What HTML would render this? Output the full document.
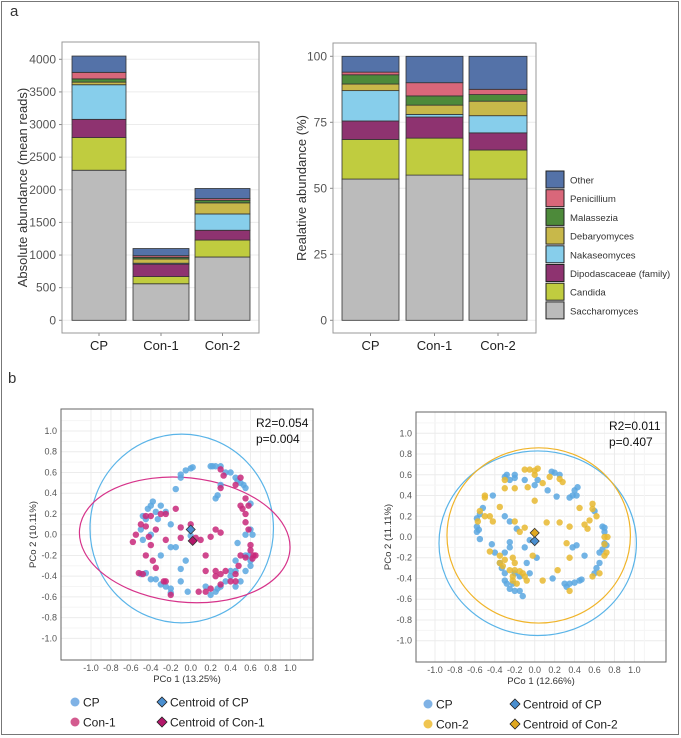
<!DOCTYPE html>
<html><head><meta charset="utf-8"><style>
html,body{margin:0;padding:0;background:#fff;}
svg{display:block;font-family:"Liberation Sans",Arial,sans-serif;}
</style></head><body>
<svg id="fig" width="681" height="738" viewBox="0 0 681 738" xmlns="http://www.w3.org/2000/svg">
<rect x="1.5" y="1.5" width="677" height="733" fill="none" stroke="#777" stroke-width="1"/>
<text x="10" y="16" font-size="15" fill="#333">a</text>
<text x="8" y="383" font-size="15" fill="#333">b</text>
<g id="g"></g>
</svg>
<script>
// ---------- data ----------
const groups = ["CP","Con-1","Con-2"];
const taxa = ["Saccharomyces","Candida","Dipodascaceae (family)","Nakaseomyces","Debaryomyces","Malassezia","Penicillium","Other"];
const taxaColors = ["#bbbbbb","#c0cc3f","#8e3370","#87ceeb","#c8b84a","#4d8a3a","#d9677a","#5472a8"];
// absolute abundance per taxon (mean reads) for CP, Con-1, Con-2
const absCP   = [2300,500,280,530,40,50,100,250];
const absCon1 = [560,110,190,15,65,25,25,110];
const absCon2 = [970,260,150,250,170,40,25,155];
// relative abundance (%)
const relCP   = [53.5,15,7,11.5,2.5,3.5,1,6];
const relCon1 = [55,14,8,1,3.5,3.5,5,10];
const relCon2 = [53.5,11,6.5,6.5,5.5,2.5,2,12.5];
const absTicks = [0,500,1000,1500,2000,2500,3000,3500,4000];
const relTicks = [0,25,50,75,100];
const pcoTicks = [-1.0,-0.8,-0.6,-0.4,-0.2,0.0,0.2,0.4,0.6,0.8,1.0];

// PCoA left: CP vs Con-1
const leftCP = [[-0.1,0.58],[-0.05,0.62],[0,0.64],[0.02,0.65],[0.2,0.66],[0.22,0.66],[0.25,0.66],[0.3,0.66],[0.35,0.6],[0.4,0.6],[0.45,0.55],[0.47,0.52],[0.5,0.5],[0.53,0.48],[0.55,0.45],[0.3,0.48],[0.25,0.35],[0.27,0.38],[-0.15,0.44],[-0.1,0.55],[-0.38,0.32],[-0.4,0.28],[-0.43,0.25],[-0.3,0.28],[-0.35,0.22],[-0.48,0.18],[-0.45,0.15],[-0.33,0.15],[-0.25,0.22],[-0.2,0.1],[-0.5,0.05],[-0.48,-0.05],[-0.4,0.0],[0,-0.01],[-0.2,-0.12],[-0.15,-0.12],[-0.05,-0.25],[-0.1,-0.33],[-0.3,-0.2],[-0.4,-0.43],[-0.35,-0.43],[-0.3,-0.48],[-0.25,-0.5],[-0.2,-0.52],[-0.2,-0.56],[-0.1,-0.45],[-0.03,-0.55],[-0.5,-0.38],[-0.45,-0.37],[0.2,-0.58],[0.25,-0.55],[0.27,-0.52],[0.3,-0.5],[0.4,-0.4],[0.45,-0.35],[0.45,-0.5],[0.5,-0.45],[0.55,-0.35],[0.6,-0.3],[0.6,-0.25],[0.58,-0.2],[0.55,-0.2],[0.6,0.05],[0.62,0.0],[0.55,0.0],[0.47,-0.08],[0.45,-0.25],[0.4,-0.35],[0.6,0.3],[0.15,-0.5],[0.35,-0.45]];
const leftCon1 = [[0.3,0.63],[0.33,0.57],[0.3,0.45],[0.45,0.48],[0.5,0.55],[0.55,0.35],[0.58,0.28],[0.5,0.28],[0.52,0.25],[0.55,0.2],[0.55,0.12],[0.58,0.05],[0.6,-0.1],[0.6,-0.15],[0.63,-0.2],[0.65,-0.2],[0.62,-0.23],[0.55,-0.22],[0.5,-0.2],[0.48,-0.3],[0.45,-0.38],[0.35,-0.35],[0.3,-0.38],[0.25,-0.4],[0.45,-0.45],[0.4,-0.45],[0.3,-0.48],[0.2,-0.52],[0.15,-0.55],[0.08,-0.55],[0.25,-0.35],[0.15,-0.35],[0.15,-0.2],[0.1,-0.05],[0.05,-0.03],[0.2,-0.02],[0.25,0.05],[0.3,0.02],[0.0,0.1],[-0.1,0.07],[-0.1,-0.03],[-0.25,-0.05],[-0.15,0.25],[-0.25,0.2],[-0.3,0.2],[-0.4,0.18],[-0.45,0.18],[-0.5,0.1],[-0.45,0.08],[-0.55,0.0],[-0.58,-0.07],[-0.4,-0.1],[-0.45,-0.2],[-0.38,-0.25],[-0.35,-0.32],[-0.48,-0.38],[-0.52,-0.37],[-0.25,-0.45],[-0.27,-0.45],[-0.2,-0.58],[-0.35,0.05],[-0.42,-0.02]];
const leftCentroids = [[0.0,0.05],[0.02,-0.06]];
// ellipses: cx, cy, rx, ry, angle(deg)
const leftEllCP = [-0.09,0.06,0.92,0.91,0];
const leftEllCon1 = [-0.06,-0.05,1.06,0.6,6];

// PCoA right: CP vs Con-2
const rightCP = [[-0.3,0.58],[-0.28,0.6],[-0.25,0.55],[-0.2,0.6],[-0.2,0.57],[-0.1,0.55],[0.0,0.5],[0.03,0.55],[0.17,0.63],[0.2,0.62],[0.25,0.6],[0.13,0.45],[0.22,0.39],[0.35,0.38],[0.4,0.45],[0.43,0.48],[0.42,0.4],[0.38,0.4],[0.6,0.25],[-0.42,0.4],[-0.52,0.28],[-0.55,0.22],[-0.58,0.18],[-0.58,0.1],[-0.58,0.05],[-0.56,0.07],[-0.55,-0.02],[-0.3,0.2],[-0.25,0.15],[-0.18,0.08],[-0.43,-0.07],[-0.4,-0.15],[-0.3,-0.15],[-0.25,-0.05],[-0.25,-0.1],[-0.35,-0.25],[-0.33,-0.3],[-0.3,-0.35],[-0.3,-0.42],[-0.28,-0.45],[-0.25,-0.5],[-0.2,-0.52],[-0.15,-0.52],[-0.12,-0.57],[-0.2,-0.35],[-0.15,-0.38],[-0.05,-0.35],[-0.08,-0.25],[-0.05,-0.03],[0.02,-0.2],[0.18,-0.4],[0.3,-0.45],[0.32,-0.48],[0.35,-0.45],[0.4,-0.44],[0.45,-0.42],[0.47,-0.41],[0.5,-0.18],[0.42,-0.08],[0.38,-0.1],[0.6,-0.35],[0.62,-0.3],[0.65,-0.25],[0.65,-0.15],[0.68,-0.12],[0.7,-0.06],[0.72,-0.08],[0.7,0.05],[0.68,0.1],[0.7,0.09],[-0.1,-0.1],[-0.22,-0.45]];
const rightCon2 = [[-0.3,0.55],[-0.3,0.47],[-0.2,0.47],[-0.07,0.48],[-0.1,0.65],[-0.05,0.65],[0.0,0.64],[0.03,0.66],[0.0,0.6],[0.08,0.52],[0.15,0.58],[0.25,0.56],[0.28,0.53],[0.0,0.35],[-0.5,0.4],[-0.5,0.38],[-0.35,0.29],[-0.45,0.2],[-0.5,0.2],[-0.55,0.25],[-0.57,0.15],[-0.42,0.15],[-0.2,0.15],[-0.15,0.05],[-0.1,0.09],[0.12,0.14],[0.25,0.14],[0.35,0.1],[0.5,0.12],[0.53,0.08],[0.45,0.28],[0.58,0.27],[0.58,0.32],[0.62,0.2],[0.55,0.16],[0.7,-0.07],[0.72,-0.15],[0.7,-0.18],[0.73,0.0],[0.32,-0.06],[0.35,-0.2],[0.23,-0.32],[0.08,-0.42],[-0.02,-0.18],[-0.35,-0.18],[-0.3,-0.22],[-0.32,-0.28],[-0.35,-0.25],[-0.25,-0.32],[-0.2,-0.32],[-0.15,-0.33],[-0.12,-0.35],[-0.1,-0.38],[-0.22,-0.38],[-0.22,-0.42],[-0.18,-0.45],[-0.08,-0.42],[-0.22,-0.2],[-0.2,-0.25],[-0.45,-0.14],[0.35,-0.52],[0.65,-0.35],[0.58,-0.38],[0.7,0.0]];
const rightCentroids = [[0.0,-0.04],[0.0,0.04]];
const rightEllCP = [0.03,-0.06,0.99,0.89,0];
const rightEllCon2 = [0.04,0.015,0.92,0.845,0];

// ---------- drawing ----------
const NS="http://www.w3.org/2000/svg";
const root=document.getElementById('g');
function el(tag,attrs,parent,text){const e=document.createElementNS(NS,tag);for(const k in attrs)e.setAttribute(k,attrs[k]);if(text!==undefined)e.textContent=text;(parent||root).appendChild(e);return e;}

function barChart(o){
  const g=el('g',{});
  
  
  const y=v=>o.y0+(o.y1-o.y0)*(v-o.vmin)/(o.vmax-o.vmin);
  el('rect',{x:o.bx0,y:o.by0,width:o.bx1-o.bx0,height:o.by1-o.by0,fill:'#fff'},g);
  o.ticks.forEach(t=>{
    const l=el('line',{x1:o.bx0,x2:o.bx1,y1:y(t),y2:y(t),stroke:'#ececec','stroke-width':1},g);
    
    
    el('line',{x1:o.bx0-3,x2:o.bx0,y1:y(t),y2:y(t),stroke:'#888'},g);
    const tx=el('text',{x:o.bx0-6,y:y(t)+4,'font-size':12,fill:'#555','text-anchor':'end'},g,String(t));
    
    
  });
  o.series.forEach((vals,gi)=>{
    const x0=o.barX[gi][0],x1=o.barX[gi][1];
    let cum=0;
    vals.forEach((v,ti)=>{
      const r=el('rect',{x:x0,y:y(cum+v),width:x1-x0,height:y(cum)-y(cum+v),fill:taxaColors[ti],stroke:'#333','stroke-width':0.8},g);
      
      
      cum+=v;
    });
    const cx=(x0+x1)/2;
    el('line',{x1:cx,x2:cx,y1:o.by1,y2:o.by1+3,stroke:'#888'},g);
    const tl=el('text',{x:cx,y:o.by1+17,'font-size':13,fill:'#222','text-anchor':'middle'},g,groups[gi]);
    
    
  });
  el('rect',{x:o.bx0,y:o.by0,width:o.bx1-o.bx0,height:o.by1-o.by0,fill:'none',stroke:'#999','stroke-width':1},g);
  const yt=el('text',{x:o.titleX,y:(o.by0+o.by1)/2,'font-size':13,fill:'#333','text-anchor':'middle',transform:`rotate(-90 ${o.titleX} ${(o.by0+o.by1)/2})`},g,o.title);
  
  
}
barChart({name:'absolute-abundance-chart',bx0:62,bx1:259,by0:42,by1:333,y0:320.3,y1:59.3,vmin:0,vmax:4000,ticks:absTicks,
  series:[absCP,absCon1,absCon2],barX:[[72,126],[133,189],[195,250]],title:'Absolute abundance (mean reads)',titleX:27});
barChart({name:'relative-abundance-chart',bx0:333,bx1:536,by0:43,by1:333,y0:320.3,y1:56.3,vmin:0,vmax:100,ticks:relTicks,
  series:[relCP,relCon1,relCon2],barX:[[342,399],[406,463],[469,527]],title:'Realative abundance (%)',titleX:306});

// legend
const lg=el('g',{});


for(let i=taxa.length-1,k=0;i>=0;i--,k++){
  const yy=171+k*18.7;
  const r=el('rect',{x:546,y:yy,width:18,height:17,fill:taxaColors[i],stroke:'#222','stroke-width':1},lg);
  
  
  const t=el('text',{x:570,y:yy+12.5,'font-size':9.6,fill:'#333'},lg,taxa[i]);
  
  
}

function pcoa(o){
  const g=el('g',{});
  
  
  const sx=v=>o.x0+v*o.kx, sy=v=>o.y0-v*o.ky;
  el('rect',{x:o.bx0,y:o.by0,width:o.bx1-o.bx0,height:o.by1-o.by0,fill:'#fff'},g);
  pcoTicks.forEach(t=>{
    el('line',{x1:sx(t),x2:sx(t),y1:o.by0,y2:o.by1,stroke:'#ececec'},g);
    el('line',{x1:o.bx0,x2:o.bx1,y1:sy(t),y2:sy(t),stroke:'#ececec'},g);
    el('line',{x1:sx(t+0.1),x2:sx(t+0.1),y1:o.by0,y2:o.by1,stroke:'#f5f5f5'},g);
    el('line',{x1:o.bx0,x2:o.bx1,y1:sy(t+0.1),y2:sy(t+0.1),stroke:'#f5f5f5'},g);
    const xl=el('text',{x:sx(t),y:o.by1+11,'font-size':9,fill:'#555','text-anchor':'middle'},g,t.toFixed(1));
    
    
    const yl=el('text',{x:o.bx0-4,y:sy(t)+3,'font-size':9,fill:'#555','text-anchor':'end'},g,t.toFixed(1));
    
    
  });
  const ell=(e,col,nm)=>{
    const x=el('ellipse',{cx:sx(e[0]),cy:sy(e[1]),rx:e[2]*o.kx,ry:e[3]*o.ky,fill:'none',stroke:col,'stroke-width':1.2,transform:`rotate(${e[4]} ${sx(e[0])} ${sy(e[1])})`},g);
    
    
  };
  ell(o.ellA,'#5ab4e8','ellipse-cp');
  ell(o.ellB,o.colEll,'ellipse-'+o.labB.toLowerCase());
  o.ptsA.forEach(p=>{const c=el('circle',{cx:sx(p[0]),cy:sy(p[1]),r:3.2,fill:'#5ba7e0','fill-opacity':0.85},g);
    
    });
  o.ptsB.forEach(p=>{const c=el('circle',{cx:sx(p[0]),cy:sy(p[1]),r:3.2,fill:o.colB,'fill-opacity':0.85},g);
    
    });
  const dia=(p,col,nm)=>{const cx=sx(p[0]),cy=sy(p[1]);
    const d=el('polygon',{points:`${cx},${cy-4.5} ${cx+4.5},${cy} ${cx},${cy+4.5} ${cx-4.5},${cy}`,fill:col,stroke:'#333','stroke-width':0.8},g);
    
    };
  dia(o.cent[0],'#4a8fd0','centroid-cp');
  dia(o.cent[1],o.colCent,'centroid-'+o.labB.toLowerCase());
  el('rect',{x:o.bx0,y:o.by0,width:o.bx1-o.bx0,height:o.by1-o.by0,fill:'none',stroke:'#666','stroke-width':1},g);
  const s1=el('text',{x:o.bx1-57,y:o.by0+18,'font-size':12,fill:'#111'},g,o.r2);
  
  
  const s2=el('text',{x:o.bx1-57,y:o.by0+34,'font-size':12,fill:'#111'},g,o.p);
  
  
  const xt=el('text',{x:(o.bx0+o.bx1)/2,y:o.by1+22,'font-size':9.5,fill:'#333','text-anchor':'middle'},g,o.xt);
  
  
  const ym=(o.by0+o.by1)/2;
  const yt=el('text',{x:o.bx0-25,y:ym,'font-size':9.5,fill:'#333','text-anchor':'middle',transform:`rotate(-90 ${o.bx0-25} ${ym})`},g,o.yt);
  
  
  // legend
  const L=o.legX, Ly=o.by1+42;
  const items=[[L,Ly,'c','#7fb2e5','CP'],[L,Ly+20,'c',o.colLeg,o.labB],[L+87,Ly,'d','#4a8fd0','Centroid of CP'],[L+87,Ly+20,'d',o.colCent,'Centroid of '+o.labB]];
  items.forEach(it=>{
    if(it[2]==='c'){const c=el('circle',{cx:it[0],cy:it[1],r:4.5,fill:it[3]},g);}
    else{const d=el('polygon',{points:`${it[0]},${it[1]-5} ${it[0]+5},${it[1]} ${it[0]},${it[1]+5} ${it[0]-5},${it[1]}`,fill:it[3],stroke:'#222','stroke-width':0.8},g);}
    const t=el('text',{x:it[0]+8,y:it[1]+4.5,'font-size':12,fill:'#222'},g,it[4]);
    
    
  });
}
pcoa({name:'pcoa-cp-vs-con1',bx0:61,bx1:313,by0:409,by1:660,x0:190.7,kx:99.7,y0:534.7,ky:103.7,
  ptsA:leftCP,ptsB:leftCon1,cent:leftCentroids,ellA:leftEllCP,ellB:leftEllCon1,colB:'#c8287a',colEll:'#d6338a',colCent:'#b3176a',colLeg:'#d35b8f',
  labB:'Con-1',r2:'R2=0.054',p:'p=0.004',xt:'PCo 1 (13.25%)',yt:'PCo 2 (10.11%)',legX:75});
pcoa({name:'pcoa-cp-vs-con2',bx0:416,bx1:666,by0:412,by1:662,x0:534.7,kx:99.7,y0:537,ky:103.7,
  ptsA:rightCP,ptsB:rightCon2,cent:rightCentroids,ellA:rightEllCP,ellB:rightEllCon2,colB:'#e8b830',colEll:'#f0b429',colCent:'#e0a820',colLeg:'#f0c550',
  labB:'Con-2',r2:'R2=0.011',p:'p=0.407',xt:'PCo 1 (12.66%)',yt:'PCo 2 (11.11%)',legX:428});
</script>
</body></html>
